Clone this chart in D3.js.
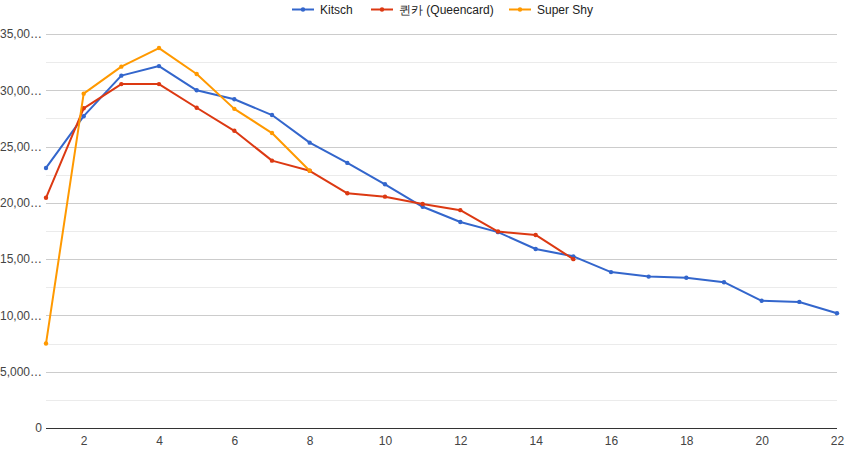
<!DOCTYPE html>
<html>
<head>
<meta charset="utf-8">
<script src="https://cdn.jsdelivr.net/npm/d3@7"></script>
<style>
  body { margin: 0; background: #fff; }
  text { font-family: "Liberation Sans", Arial, sans-serif; }
</style>
</head>
<body>
<div class="canvas"></div>
<script>
const weeks = d3.range(1, 23);
const kitsch = [23100, 27700, 31300, 32150, 30000, 29200, 27800, 25350, 23550, 21650, 19650, 18300, 17400, 15900, 15250, 13850, 13450, 13350, 12950, 11300, 11200, 10200];
const queencard = [20450, 28400, 30550, 30550, 28450, 26400, 23750, 22850, 20850, 20550, 19900, 19350, 17450, 17150, 15000];
const superShy = [7500, 29700, 32100, 33750, 31450, 28350, 26200, 22850];
const seriesNames = ["Kitsch", "퀸카 (Queencard)", "Super Shy"];
const yTicks = [0, 5000, 10000, 15000, 20000, 25000, 30000, 35000];
const yTickLabels = ["0", "5,000…", "10,00…", "15,00…", "20,00…", "25,00…", "30,00…", "35,00…"];
const xTicks = [2, 4, 6, 8, 10, 12, 14, 16, 18, 20, 22];

const colors = ["#3366cc", "#dc3912", "#ff9900"];
const series = [kitsch, queencard, superShy];

const dims = { width: 850, height: 451 };
const plot = { left: 46, right: 837, top: 34, bottom: 428 };

const svg = d3
  .select(".canvas")
  .append("svg")
  .attr("width", dims.width)
  .attr("height", dims.height);

const x = d3.scaleLinear().domain([1, 22]).range([plot.left, plot.right]);
const y = d3.scaleLinear().domain([0, 35000]).range([plot.bottom, plot.top]);

// minor gridlines
svg
  .append("g")
  .selectAll("line")
  .data(d3.range(2500, 35000, 5000))
  .join("line")
  .attr("x1", plot.left)
  .attr("x2", plot.right)
  .attr("y1", (d) => Math.round(y(d)) + 0.5)
  .attr("y2", (d) => Math.round(y(d)) + 0.5)
  .attr("stroke", "#ebebeb");

// major gridlines
svg
  .append("g")
  .selectAll("line")
  .data(yTicks.filter((d) => d > 0))
  .join("line")
  .attr("x1", plot.left)
  .attr("x2", plot.right)
  .attr("y1", (d) => Math.round(y(d)) + 0.5)
  .attr("y2", (d) => Math.round(y(d)) + 0.5)
  .attr("stroke", "#cccccc");

const yAxis = svg
  .append("g")
  .attr("transform", `translate(${plot.left - 4},0)`)
  .call(
    d3.axisLeft(y)
      .tickValues(yTicks)
      .tickFormat((d, i) => yTickLabels[i])
      .tickSize(0)
      .tickPadding(0)
  );
yAxis.select(".domain").remove();
yAxis
  .selectAll("text")
  .attr("fill", "#444")
  .attr("font-size", 12);

const xAxis = svg
  .append("g")
  .attr("transform", `translate(0,${plot.bottom})`)
  .call(d3.axisBottom(x).tickValues(xTicks).tickFormat(d3.format("d")).tickSize(0).tickPadding(8));
xAxis.select(".domain").remove();
xAxis
  .selectAll("text")
  .attr("fill", "#444")
  .attr("font-size", 12);

// baseline
svg
  .append("line")
  .attr("x1", plot.left)
  .attr("x2", plot.right)
  .attr("y1", Math.round(y(0)) + 0.5)
  .attr("y2", Math.round(y(0)) + 0.5)
  .attr("stroke", "#333")
  .attr("stroke-width", 1);

const line = d3
  .line()
  .x((d, i) => x(weeks[i]))
  .y((d) => y(d));

series.forEach((values, s) => {
  const g = svg.append("g");
  g.append("path")
    .attr("d", line(values))
    .attr("fill", "none")
    .attr("stroke", colors[s])
    .attr("stroke-width", 2)
    .attr("stroke-linejoin", "round");
  g.selectAll("circle")
    .data(values)
    .join("circle")
    .attr("cx", (d, i) => x(weeks[i]))
    .attr("cy", (d) => y(d))
    .attr("r", 2.2)
    .attr("fill", colors[s]);
});

// legend
const legendX = [292, 371, 509];
const legend = svg.append("g").attr("transform", "translate(0,9)");
seriesNames.forEach((name, i) => {
  const item = legend.append("g").attr("transform", `translate(${legendX[i]},0)`);
  item.append("line")
    .attr("x1", 0).attr("x2", 22)
    .attr("y1", 0.5).attr("y2", 0.5)
    .attr("stroke", colors[i])
    .attr("stroke-width", 2);
  item.append("circle")
    .attr("cx", 11).attr("cy", 0.5).attr("r", 2.2)
    .attr("fill", colors[i]);
  item.append("text")
    .attr("x", 28)
    .attr("y", 4.5)
    .attr("font-size", 12)
    .attr("fill", "#222")
    .text(name);
});
</script>
</body>
</html>
